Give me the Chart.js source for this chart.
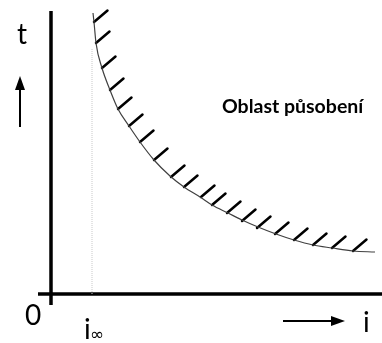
<!DOCTYPE html>
<html>
<head>
<meta charset="utf-8">
<script src="https://cdn.jsdelivr.net/npm/chart.js@4/dist/chart.umd.min.js"></script>
<style>
  body { margin: 0; background: #fff; }
  canvas { display: block; }
</style>
</head>
<body>
<canvas id="grafico" width="382" height="343"></canvas>
<script>
// curva t(i)
const curvaI = [42, 43, 45, 51, 59, 67, 78, 89, 103, 119, 133, 149, 161, 177, 191, 207, 225, 243, 262, 281, 302, 324];
const curvaT = [281, 272, 251, 226, 204, 185, 168, 152, 134, 118, 107, 97, 89, 81, 74, 67, 60, 54, 49, 46, 43, 42];

// pontos de onde saem as hachuras
const hachuraI = [43, 45, 51, 59, 67, 78, 89, 103, 120, 133, 150, 161, 176, 191, 206, 224, 243, 262, 281, 302];
const hachuraT = [272, 251, 226, 204, 185, 168, 152, 134, 117, 107, 97, 89, 81, 73, 66, 60, 54, 49, 46, 43];

// eixos e assintota
const eixoI = [-13, 331];
const eixoT = [-11, 283];
const iInfinito = 41;
const assintotaT = [0, 246];

const textos = {
  eixoVertical: "t",
  eixoHorizontal: "i",
  origem: "0",
  assintota: "i",
  infinito: "∞",
  regiao: "Oblast působení",
};

function montarHachuras() {
  const pontos = [];
  hachuraI.forEach((i, k) => {
    pontos.push({ x: i, y: hachuraT[k] });
    pontos.push({ x: i + 13.5, y: hachuraT[k] + 11.5 });
    pontos.push({ x: i, y: null });
  });
  return pontos;
}

const anotacoes = {
  id: "anotacoes",
  afterDatasetsDraw(chart) {
    const ctx = chart.ctx;
    const sx = chart.scales.x;
    const sy = chart.scales.y;
    const px = (v) => sx.getPixelForValue(v);
    const py = (v) => sy.getPixelForValue(v);

    ctx.save();
    ctx.fillStyle = "#000";
    ctx.strokeStyle = "#000";
    ctx.textBaseline = "alphabetic";

    ctx.font = "28px Lato";
    ctx.textAlign = "left";
    ctx.fillText(textos.eixoVertical, px(-34), py(250));
    ctx.fillText(textos.origem, px(-26), py(-31));
    ctx.fillText(textos.eixoHorizontal, px(312), py(-38));
    ctx.fillText(textos.assintota, px(33), py(-45));
    ctx.font = "17px 'DejaVu Sans'";
    ctx.fillText(textos.infinito, px(39), py(-46));

    ctx.font = "bold 19.5px Lato";
    ctx.fillText(textos.regiao, px(171), py(181));

    // seta para cima
    ctx.lineWidth = 2;
    ctx.beginPath();
    ctx.moveTo(px(-31), py(167));
    ctx.lineTo(px(-31), py(206));
    ctx.stroke();
    ctx.beginPath();
    ctx.moveTo(px(-31), py(218));
    ctx.lineTo(px(-36), py(204));
    ctx.lineTo(px(-26), py(204));
    ctx.closePath();
    ctx.fill();

    // seta para a direita
    ctx.beginPath();
    ctx.moveTo(px(232), py(-27));
    ctx.lineTo(px(282), py(-27));
    ctx.stroke();
    ctx.beginPath();
    ctx.moveTo(px(294), py(-27));
    ctx.lineTo(px(280), py(-22));
    ctx.lineTo(px(280), py(-32));
    ctx.closePath();
    ctx.fill();
    ctx.restore();
  },
};

new Chart(document.getElementById("grafico"), {
  type: "scatter",
  data: {
    datasets: [
      {
        data: [{ x: iInfinito, y: assintotaT[0] }, { x: iInfinito, y: assintotaT[1] }],
        showLine: true,
        borderColor: "#c8c8c8",
        borderWidth: 1,
        borderDash: [1, 1],
        pointRadius: 0,
      },
      {
        data: curvaI.map((i, k) => ({ x: i, y: curvaT[k] })),
        showLine: true,
        borderColor: "#404040",
        borderWidth: 1.2,
        cubicInterpolationMode: "monotone",
        pointRadius: 0,
      },
      {
        data: montarHachuras(),
        showLine: true,
        spanGaps: false,
        borderColor: "#000",
        borderWidth: 2.5,
        borderCapStyle: "round",
        pointRadius: 0,
      },
      {
        data: [{ x: 0, y: eixoT[0] }, { x: 0, y: eixoT[1] }],
        showLine: true,
        borderColor: "#000",
        borderWidth: 3.5,
        pointRadius: 0,
      },
      {
        data: [{ x: eixoI[0], y: 0 }, { x: eixoI[1], y: 0 }],
        showLine: true,
        borderColor: "#000",
        borderWidth: 3.5,
        pointRadius: 0,
      },
    ],
  },
  options: {
    responsive: false,
    animation: false,
    layout: { padding: 0 },
    plugins: {
      legend: { display: false },
      tooltip: { enabled: false },
    },
    scales: {
      x: { type: "linear", display: false, min: -51, max: 331 },
      y: { type: "linear", display: false, min: -49, max: 294 },
    },
  },
  plugins: [anotacoes],
});
</script>
</body>
</html>
